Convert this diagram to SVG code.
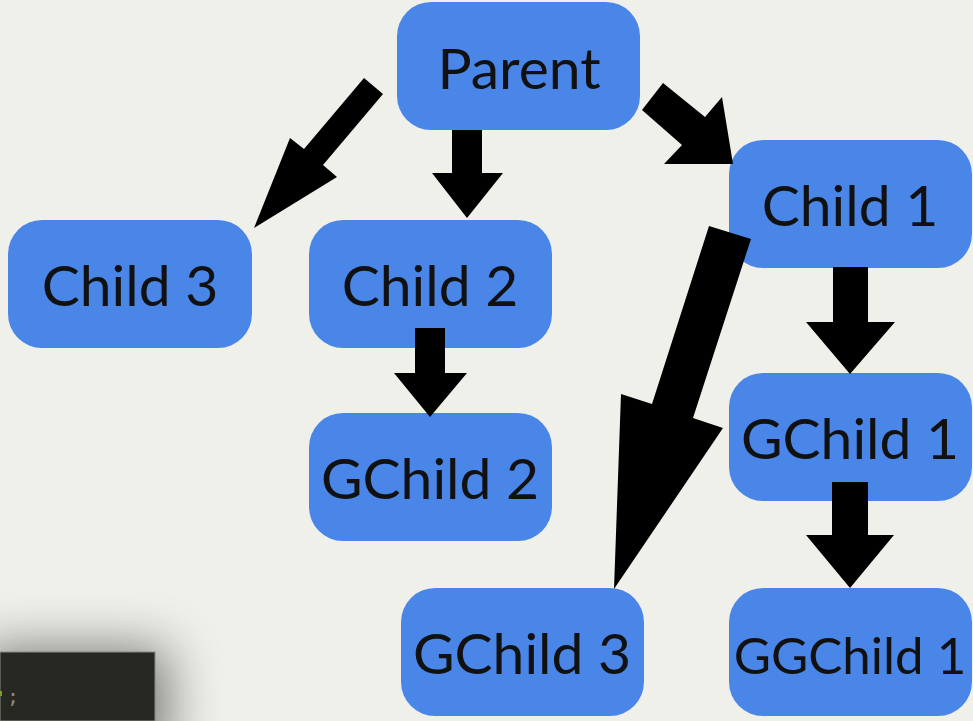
<svg xmlns="http://www.w3.org/2000/svg" width="973" height="721" viewBox="0 0 973 721">
  <defs>
    <style>
      .node rect { fill: #4a86e8; }
      .node text { font-family: Lato, "Open Sans", sans-serif; font-size: 57px; fill: #111111; text-anchor: middle; }
      .arrow { fill: #000000; }
    </style>
    <filter id="shadow" x="-60%" y="-60%" width="220%" height="220%">
      <feGaussianBlur stdDeviation="26"/>
    </filter>
  </defs>
  <rect x="0" y="0" width="973" height="721" fill="#f0f0eb"/>

  <!-- code panel fragment -->
  <g id="code-panel">
    <rect x="-20" y="648" width="188" height="110" fill="#000" opacity="0.5" filter="url(#shadow)"/>
    <rect x="0" y="652" width="155" height="69" fill="#272822" stroke="#8a8a84" stroke-width="1"/>
    <rect x="0" y="691" width="2" height="5" fill="#7aa020"/>
    <text x="7" y="703" font-family="'DejaVu Sans Mono', monospace" font-size="20" fill="#8a8a84">;</text>
  </g>

  <g id="parent" class="node">
    <rect x="397" y="2" width="243" height="128" rx="34"/>
    <text x="519" y="89">Parent</text>
  </g>
  <g id="child1" class="node">
    <rect x="729" y="140" width="243" height="128" rx="34"/>
    <text x="850" y="226">Child 1</text>
  </g>
  <g id="child2" class="node">
    <rect x="309" y="220" width="243" height="128" rx="34"/>
    <text x="430" y="306">Child 2</text>
  </g>
  <g id="child3" class="node">
    <rect x="8" y="220" width="244" height="128" rx="34"/>
    <text x="130" y="306">Child 3</text>
  </g>
  <g id="gchild1" class="node">
    <rect x="729" y="373" width="243" height="128" rx="34"/>
    <text x="850" y="459">GChild 1</text>
  </g>
  <g id="gchild2" class="node">
    <rect x="309" y="413" width="243" height="128" rx="34"/>
    <text x="430" y="499">GChild 2</text>
  </g>
  <g id="gchild3" class="node">
    <rect x="401" y="588" width="243" height="128" rx="34"/>
    <text x="522" y="674">GChild 3</text>
  </g>
  <g id="ggchild1" class="node">
    <rect x="729" y="588" width="243" height="128" rx="34"/>
    <text x="850" y="674" style="font-size:51px">GGChild 1</text>
  </g>

  <g id="connectors">
    <!-- Parent -> Child 3 -->
    <polygon class="arrow" points="364,78 383,94 323,165 337,177 254,228 290,138 304,149"/>
    <!-- Parent -> Child 2 -->
    <polygon class="arrow" points="452,130 482,130 482,173 503,173 467,218 432,173 452,173"/>
    <!-- Parent -> Child 1 -->
    <polygon class="arrow" points="663,83 705,117 722,97 733,164 664,164 682,145 642,110"/>
    <!-- Child 2 -> GChild 2 -->
    <polygon class="arrow" points="415,328 445,328 445,373 467,373 430,417 394,373 415,373"/>
    <!-- Child 1 -> GChild 1 -->
    <polygon class="arrow" points="833,267 868,267 868,322 895,322 850,374 806,322 833,322"/>
    <!-- GChild 1 -> GGChild 1 -->
    <polygon class="arrow" points="832,482 868,482 868,535 894,535 850,588 806,535 832,535"/>
    <!-- Child 1 -> GChild 3 -->
    <polygon class="arrow" points="709,226 751,239 693,418 723,428 614,589 621,394 652,404"/>
  </g>
</svg>
